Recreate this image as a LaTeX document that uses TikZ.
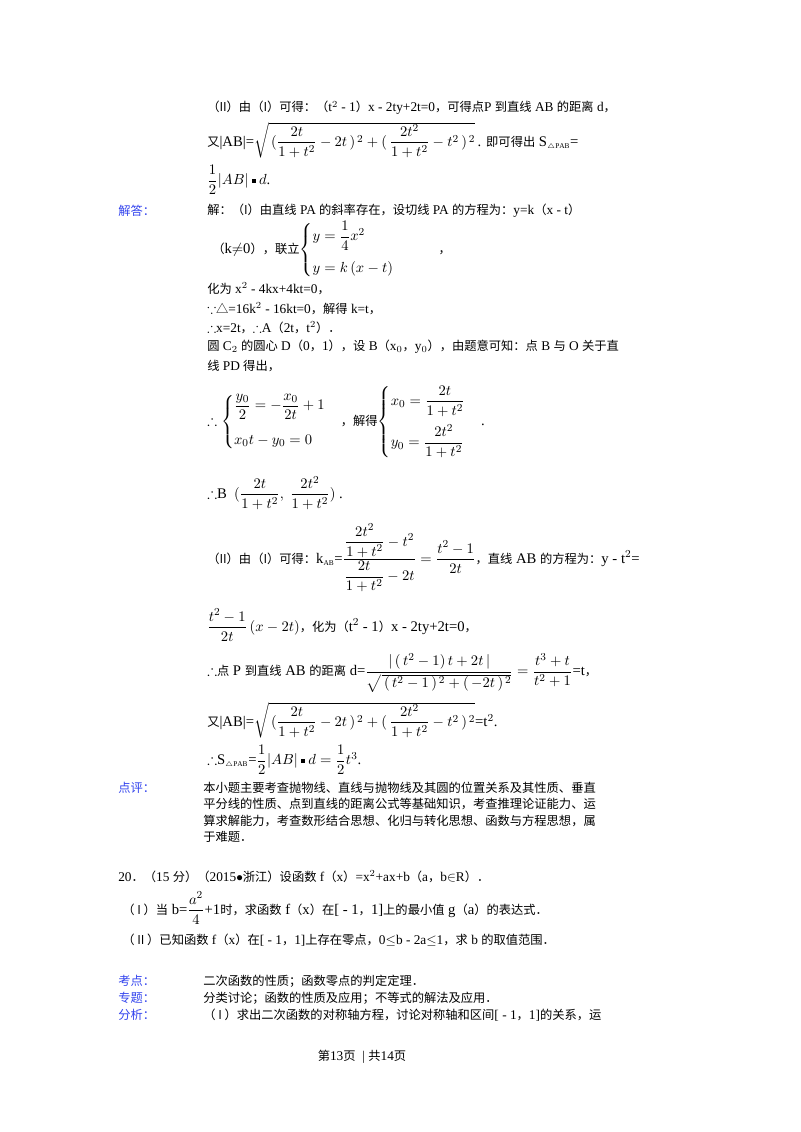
\documentclass[tikz,border=0pt]{standalone}
\usepackage{amsmath,amssymb}
\usepackage{fontspec}
\setmainfont{Liberation Serif}
\newfontfamily\cjk{Noto Sans CJK SC}
\newcommand\zh[1]{{\fontsize{9.2}{12}\selectfont\cjk #1}}
\newcommand\dotsq{\mathbin{\vcenter{\hbox{\rule{3pt}{3pt}}}}}
\definecolor{lab}{HTML}{3344EE}
\begin{document}
\begin{tikzpicture}[x=0.75pt,y=-0.75pt,
  txt/.style={anchor=west,inner sep=0pt,font=\fontsize{10}{12}\selectfont},
  mth/.style={anchor=west,inner sep=0pt,font=\fontsize{11}{13}\selectfont},
  par/.style={anchor=west,inner sep=0pt,font=\fontsize{9.2}{12}\selectfont\cjk},
  lbl/.style={anchor=west,inner sep=0pt,font=\fontsize{9.2}{12}\selectfont\cjk,text=lab}]
\useasboundingbox[fill=white] (0,0) rectangle (800,1132);
\node[txt] (l1) at (207,108) {\zh{（II）由（I）可得：（}t$^2$ - 1\zh{）}x - 2ty+2t=0\zh{，可得点}P \zh{到直线} AB \zh{的距离} d\zh{，}};
\node[mth] (l2) at (207,140) {\zh{又}|AB|=$\sqrt{\,(\dfrac{2t}{1+t^2}-2t\,)^{\,2}+(\,\dfrac{2t^2}{1+t^2}-t^2\,)^{\,2}}$\,. \zh{即可得出} S$_{\scriptscriptstyle\triangle\mathrm{PAB}}$=};
\node[mth] (l3) at (207,180) {$\dfrac12|AB|\dotsq d$.};
\node[lbl] (jd) at (118,211) {解答：};
\node[txt] (l4) at (207,211) {\zh{解：（I）由直线} PA \zh{的斜率存在，设切线} PA \zh{的方程为：}y=k\zh{（}x - t\zh{）}};
\node[mth] (l5) at (212,250) {\zh{（}k$\neq$0\zh{），联立}$\begin{cases} y=\dfrac14x^2\\[8pt] y=k\,(x-t)\end{cases}$\qquad\zh{，}};
\node[txt] (l6) at (207,289) {\zh{化为} x$^2$ - 4kx+4kt=0\zh{，}};
\node[txt] (l7) at (207,309) {$\because$\zh{△}=16k$^2$ - 16kt=0\zh{，解得} k=t\zh{，}};
\node[txt] (l8) at (207,328) {$\therefore$x=2t\zh{，}$\therefore$A\zh{（}2t\zh{，}t$^2$\zh{）．}};
\node[txt] (l9) at (207,347) {\zh{圆} C$_2$ \zh{的圆心} D\zh{（}0\zh{，}1\zh{），设} B\zh{（}x$_0$\zh{，}y$_0$\zh{），由题意可知：点} B \zh{与} O \zh{关于直}};
\node[txt] (l10) at (207,366) {\zh{线} PD \zh{得出，}};
\node[mth] (l11) at (207,422) {$\therefore\begin{cases}\dfrac{y_0}{2}=-\dfrac{x_0}{2t}+1\\[10pt] x_0t-y_0=0\end{cases}$\zh{，解得}$\begin{cases}x_0=\dfrac{2t}{1+t^2}\\[10pt] y_0=\dfrac{2t^2}{1+t^2}\end{cases}$.};
\node[mth] (l12) at (207,493) {$\therefore$B\ \ $(\dfrac{2t}{1+t^2},\ \dfrac{2t^2}{1+t^2})$\ .};
\node[mth] (l13) at (207,558) {\zh{（II）由（I）可得：}k$_{\scriptscriptstyle\mathrm{AB}}$=$\dfrac{\dfrac{2t^2}{1+t^2}-t^2}{\dfrac{2t}{1+t^2}-2t}=\dfrac{t^2-1}{2t}$\zh{，直线} AB \zh{的方程为：}y - t$^2$=};
\node[mth] (l14) at (207,625) {$\dfrac{t^2-1}{2t}\,(x-2t)$\zh{，化为（}t$^2$ - 1\zh{）}x - 2ty+2t=0\zh{，}};
\node[mth] (l15) at (207,673) {$\therefore$\zh{点} P \zh{到直线} AB \zh{的距离} d=$\dfrac{|\,(\,t^2-1)\,t+2t\,|}{\sqrt{\,(\,t^2-1\,)^{\,2}+(\,-2t\,)^{\,2}}}=\dfrac{t^3+t}{t^2+1}$=t\zh{，}};
\node[mth] (l16) at (207,720) {\zh{又}|AB|=$\sqrt{\,(\dfrac{2t}{1+t^2}-2t\,)^{\,2}+(\,\dfrac{2t^2}{1+t^2}-t^2\,)^{\,2}}$=t$^2$.};
\node[mth] (l17) at (207,760) {$\therefore$S$_{\scriptscriptstyle\triangle\mathrm{PAB}}$=$\dfrac12|AB|\dotsq d=\dfrac12t^3$.};
\node[lbl] (dp) at (118,788) {点评：};
\node[par] (p1) at (203,788) {本小题主要考查抛物线、直线与抛物线及其圆的位置关系及其性质、垂直};
\node[par] (p2) at (203,804) {平分线的性质、点到直线的距离公式等基础知识，考查推理论证能力、运};
\node[par] (p3) at (203,821) {算求解能力，考查数形结合思想、化归与转化思想、函数与方程思想，属};
\node[par] (p4) at (203,837) {于难题．};
\node[txt] (q20) at (118,877) {20\zh{．（}15 \zh{分）（}2015$\bullet$\zh{浙江）设函数} f\zh{（}x\zh{）}=x$^2$+ax+b\zh{（}a\zh{，}b$\in$R\zh{）．}};
\node[mth] (q1) at (122,908) {\zh{（ I ）当} b=$\dfrac{a^2}{4}$+1\zh{时，求函数} f\zh{（}x\zh{）在}[ - 1\zh{，}1]\zh{上的最小值} g\zh{（}a\zh{）的表达式．}};
\node[txt] (q2) at (122,940) {\zh{（ II ）已知函数} f\zh{（}x\zh{）在}[ - 1\zh{，}1]\zh{上存在零点，}0$\leq$b - 2a$\leq$1\zh{，求} b \zh{的取值范围．}};
\node[lbl] (kd) at (118,981) {考点：};
\node[txt] (a1) at (203,981) {\zh{二次函数的性质；函数零点的判定定理．}};
\node[lbl] (zt) at (118,998) {专题：};
\node[txt] (a2) at (203,998) {\zh{分类讨论；函数的性质及应用；不等式的解法及应用．}};
\node[lbl] (fx) at (118,1015) {分析：};
\node[txt] (a3) at (203,1015) {\zh{（ I ）求出二次函数的对称轴方程，讨论对称轴和区间}[ - 1\zh{，}1]\zh{的关系，运}};
\node[txt,anchor=center] (ft) at (362,1057) {\zh{第}13\zh{页}\ \ |\ \zh{共}14\zh{页}};
\end{tikzpicture}
\end{document}
